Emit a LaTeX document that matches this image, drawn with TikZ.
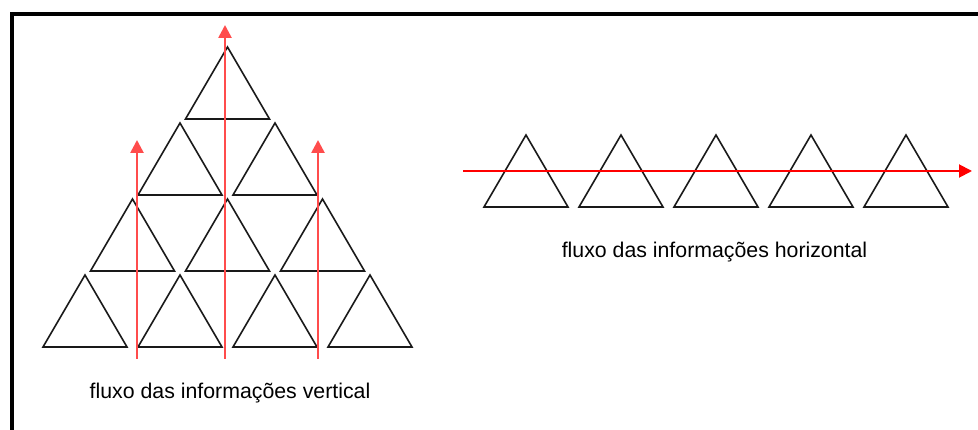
\documentclass[tikz,border=0pt]{standalone}
\usepackage{fontspec}
\setmainfont{Liberation Sans}
\usetikzlibrary{arrows.meta}
\tikzset{
  tri/.style={draw=black!90, line width=1.6pt, line join=miter},
  flowv/.style={draw=red!70, line width=2.6pt, -{Triangle[length=13pt,width=13pt]}},
  flowh/.style={draw=red, line width=1.9pt, -{Triangle[length=13pt,width=13pt]}},
  caption/.style={font=\fontsize{21.3}{24}\selectfont, text=black, anchor=base, inner sep=0pt},
  frameline/.style={draw=black, line width=4pt}
}
\newcommand{\tritri}[2]{\path[tri] (#1,#2) -- ++(42,72) -- ++(-84,0) -- cycle;}
\begin{document}
\begin{tikzpicture}[x=1pt,y=-1pt]
\useasboundingbox (0,0) rectangle (978,430);
\clip (0,0) rectangle (978,430);
\fill[white] (0,0) rectangle (978,430);
% frame (cut off right and bottom)
\draw[frameline] (11.5,445) -- (11.5,14) -- (995,14);
% pyramid
\tritri{227.5}{47}
\tritri{180}{123}\tritri{275}{123}
\tritri{132.5}{199}\tritri{227.5}{199}\tritri{322.5}{199}
\tritri{85}{275}\tritri{180}{275}\tritri{275}{275}\tritri{370}{275}
% horizontal row
\tritri{526}{135}\tritri{621}{135}\tritri{716}{135}\tritri{811}{135}\tritri{906}{135}
% flow arrows
\coordinate (v1s) at (137,359); \coordinate (v1e) at (137,140);
\coordinate (v2s) at (225,359); \coordinate (v2e) at (225,25);
\coordinate (v3s) at (318,359); \coordinate (v3e) at (318,140);
\coordinate (hs) at (463,171); \coordinate (he) at (972,171);
\draw[flowv] (v1s) -- (v1e);
\draw[flowv] (v2s) -- (v2e);
\draw[flowv] (v3s) -- (v3e);
\draw[flowh] (hs) -- (he);
% captions
\node[caption] (capv) at (230,399) {fluxo das informações vertical};
\node[caption] (caph) at (714.5,258) {fluxo das informações horizontal};
\end{tikzpicture}
\end{document}
